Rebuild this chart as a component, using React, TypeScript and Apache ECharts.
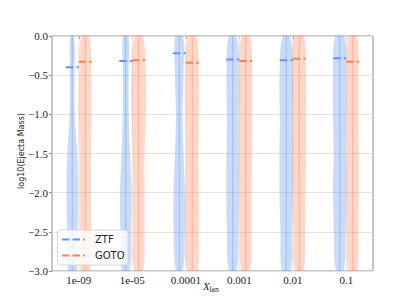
import React, { useEffect, useRef } from 'react';
import * as echarts from 'echarts';

const CATEGORIES = ['1e-09', '1e-05', '0.0001', '0.001', '0.01', '0.1'];
const SERIES_NAMES = ['ZTF', 'GOTO'];
const ZTF_MEDIANS = [-0.4, -0.32, -0.22, -0.3, -0.31, -0.285];
const GOTO_MEDIANS = [-0.33, -0.31, -0.34, -0.32, -0.29, -0.33];
// density profile levels (log10 ejecta mass) and relative densities per category
const DENSITY_LEVELS = [0, -0.5, -1.0, -1.5, -2.0, -2.5, -3.0];
const ZTF_DENSITY = [
  [2.0, 2.3, 2.5, 5.0, 5.7, 5.3, 4.0],
  [2.8, 2.8, 3.0, 4.2, 5.8, 5.3, 3.8],
  [3.8, 4.3, 3.3, 4.3, 5.7, 5.7, 3.3],
  [3.8, 6.2, 5.8, 6.2, 6.5, 5.8, 3.8],
  [3.7, 6.7, 6.5, 6.7, 6.7, 5.8, 4.2],
  [4.5, 6.7, 6.7, 6.2, 6.7, 5.8, 3.8],
];
const GOTO_DENSITY = [
  [4.0, 6.0, 6.3, 5.7, 5.7, 5.7, 4.3],
  [4.2, 7.0, 7.0, 5.8, 5.8, 5.8, 4.2],
  [4.2, 6.7, 6.7, 6.3, 6.7, 6.7, 5.0],
  [4.2, 6.5, 6.5, 6.5, 5.8, 5.8, 4.2],
  [4.7, 6.7, 6.7, 6.7, 6.2, 5.8, 4.2],
  [4.2, 5.8, 5.8, 6.2, 6.2, 5.8, 4.2],
];
const Y_MIN = -3;
const Y_MAX = 0;
const Y_INTERVAL = 0.5;

const DENSITY_SCALE = 1 / 53.5; // relative density -> fraction of category band
const OFFSET = 0.1215; // hue offset as fraction of band
const MEDIAN_HALF = 0.1215;

const BLUE = '#6495ED';
const ORANGE = '#FF7F50';
const SERIF = '"Liberation Serif", "DejaVu Serif", serif';
const SANS = '"DejaVu Sans", sans-serif';

function violinSeries(name: string, side: number, medians: number[], densities: number[][], color: string, fill: string, center: string) {
  return {
    type: 'custom',
    name,
    z: 3,
    silent: true,
    clip: true,
    data: medians.map((m, i) => [i, m]),
    encode: { x: 0, y: 1 },
    renderItem: (_params: any, api: any) => {
      const i = api.value(0);
      const med = api.value(1);
      const band = api.size([1, 0])[0];
      const cx = api.coord([i, 0])[0] + side * OFFSET * band;
      const prof = densities[i];
      const right: number[][] = [];
      const left: number[][] = [];
      DENSITY_LEVELS.forEach((lv, k) => {
        const y = api.coord([i, lv])[1];
        const hw = prof[k] * DENSITY_SCALE * band;
        right.push([cx + hw, y]);
        left.unshift([cx - hw, y]);
      });
      const yTop = api.coord([i, Y_MAX])[1];
      const yBot = api.coord([i, Y_MIN])[1];
      const my = api.coord([i, med])[1];
      const half = MEDIAN_HALF * band;
      return {
        type: 'group',
        children: [
          { type: 'polygon', shape: { points: right.concat(left), smooth: 0.35 }, style: { fill, stroke: 'none' } },
          { type: 'line', shape: { x1: cx, y1: yTop, x2: cx, y2: yBot }, style: { stroke: center, lineWidth: 1 } },
          {
            type: 'line',
            shape: { x1: cx - half, y1: my, x2: cx + half, y2: my },
            style: { stroke: color, lineWidth: 2, lineDash: [7.4, 3.2] },
          },
        ],
      };
    },
  };
}

export default function App() {
  const ref = useRef<HTMLDivElement>(null);
  useEffect(() => {
    if (!ref.current) return;
    const chart = echarts.init(ref.current, null, { renderer: 'svg' });
    const legendX = 57.5;
    const legendY = 230;
    chart.setOption({
      animation: false,
      grid: { left: 52, right: 42, top: 36, bottom: 34, show: true, borderColor: '#8c8c8c', borderWidth: 1, backgroundColor: 'transparent' },
      xAxis: {
        type: 'category',
        data: CATEGORIES,
        axisLine: { show: false },
        axisTick: { show: true, alignWithLabel: true, length: 3, lineStyle: { color: '#8c8c8c' } },
        axisLabel: { fontFamily: SERIF, fontSize: 11, color: '#222', margin: 3 },
        splitLine: { show: false },
      },
      yAxis: {
        type: 'value',
        min: Y_MIN,
        max: Y_MAX,
        interval: Y_INTERVAL,
        axisLine: { show: false },
        axisTick: { show: true, length: 3, lineStyle: { color: '#8c8c8c' } },
        axisLabel: {
          fontFamily: SERIF,
          fontSize: 11,
          color: '#222',
          margin: 4,
          formatter: (v: number) => (v === 0 ? '0.0' : '\u2212' + Math.abs(v).toFixed(1)),
        },
        splitLine: { show: true, lineStyle: { color: '#e3e3e3', width: 1 } },
      },
      series: [
        {
          type: 'custom',
          name: 'vgrid',
          z: 1,
          silent: true,
          data: CATEGORIES.map((_, i) => [i, 0]),
          encode: { x: 0, y: 1 },
          renderItem: (_p: any, api: any) => {
            const x = api.coord([api.value(0), 0])[0];
            return {
              type: 'line',
              shape: { x1: x, y1: api.coord([0, Y_MAX])[1], x2: x, y2: api.coord([0, Y_MIN])[1] },
              style: { stroke: '#e3e3e3', lineWidth: 1 },
            };
          },
        },
        violinSeries(SERIES_NAMES[0], -1, ZTF_MEDIANS, ZTF_DENSITY, BLUE, 'rgba(100,149,237,0.34)', 'rgba(100,149,237,0.45)'),
        violinSeries(SERIES_NAMES[1], 1, GOTO_MEDIANS, GOTO_DENSITY, ORANGE, 'rgba(255,127,80,0.31)', 'rgba(255,127,80,0.45)'),
      ],
      graphic: [
        {
          type: 'text',
          x: 21,
          y: 151,
          rotation: Math.PI / 2,
          style: { text: 'log10(Ejecta Mass)', fontFamily: SANS, fontSize: 8, fill: '#222', textAlign: 'center', textVerticalAlign: 'middle' },
        },
        {
          type: 'text',
          x: 203,
          y: 286,
          style: { text: 'X', fontFamily: SERIF, fontStyle: 'italic', fontSize: 11, fill: '#222', textAlign: 'left', textVerticalAlign: 'middle' },
        },
        {
          type: 'text',
          x: 209.5,
          y: 289,
          style: { text: 'lan', fontFamily: SERIF, fontSize: 7.5, fill: '#222', textAlign: 'left', textVerticalAlign: 'middle' },
        },
        {
          type: 'rect',
          z: 100,
          shape: { x: legendX, y: legendY, width: 70.5, height: 35, r: 3 },
          style: { fill: 'rgba(255,255,255,0.8)', stroke: '#d6d6d6', lineWidth: 1 },
        },
        {
          type: 'line',
          z: 101,
          shape: { x1: 62, y1: 239.5, x2: 85, y2: 239.5 },
          style: { stroke: BLUE, lineWidth: 2, lineDash: [7.4, 3.2] },
        },
        {
          type: 'line',
          z: 101,
          shape: { x1: 62, y1: 255.5, x2: 85, y2: 255.5 },
          style: { stroke: ORANGE, lineWidth: 2, lineDash: [7.4, 3.2] },
        },
        {
          type: 'text',
          z: 101,
          x: 95,
          y: 239.5,
          style: { text: SERIES_NAMES[0], fontFamily: SANS, fontSize: 10, fill: '#222', textAlign: 'left', textVerticalAlign: 'middle' },
        },
        {
          type: 'text',
          z: 101,
          x: 95,
          y: 255.5,
          style: { text: SERIES_NAMES[1], fontFamily: SANS, fontSize: 10, fill: '#222', textAlign: 'left', textVerticalAlign: 'middle' },
        },
      ],
    });
    return () => chart.dispose();
  }, []);
  return <div ref={ref} style={{ position: 'absolute', left: 0, top: 0, width: 415, height: 305 }} />;
}
